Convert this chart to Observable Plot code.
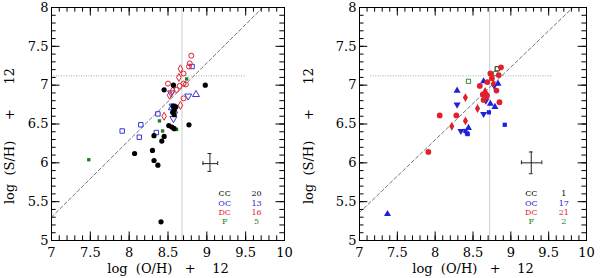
<!DOCTYPE html>
<html><head><meta charset="utf-8">
<script src="https://cdn.jsdelivr.net/npm/d3@7"></script>
<script src="https://cdn.jsdelivr.net/npm/@observablehq/plot@0.6"></script>
<style>
body{margin:0;background:#fff;}
#wrap{display:flex;width:600px;height:278px;overflow:hidden;}
</style></head><body><div id="wrap"></div>
<script>
// ---- axes / labels ----
const xTicks = [7, 7.5, 8, 8.5, 9, 9.5, 10];
const yTicks = [5, 5.5, 6, 6.5, 7, 7.5, 8];
const xLabel = "log\u00a0\u00a0(O/H)\u00a0\u00a0\u00a0+\u00a0\u00a0\u00a0\u00a012";
const yLabel = "log\u00a0\u00a0(S/H)\u00a0\u00a0\u00a0\u00a0\u00a0+\u00a0\u00a0\u00a0\u00a0\u00a0\u00a012";
const classes = ["CC", "OC", "DC", "F"];
const leftCounts = [20, 13, 16, 5];
const rightCounts = [1, 17, 21, 2];

// ---- left panel data [log(O/H)+12, log(S/H)+12] ----
const leftCC = [[8.45,6.94],[8.57,7.0],[8.98,7.0],[8.57,6.73],[8.60,6.72],[8.58,6.68],[8.58,6.62],[8.56,6.65],
  [8.51,6.48],[8.55,6.46],[8.58,6.44],[8.77,6.49],[8.32,6.35],[8.45,6.34],[8.42,6.28],[8.07,6.12],
  [8.30,6.16],[8.32,6.03],[8.37,5.97],[8.41,5.24]];
const leftOCsquare = [[7.91,6.41],[8.15,6.49],[8.13,6.33],[8.35,6.39],[8.37,6.63],[8.81,7.24]];
const leftOCdown = [[8.54,6.90],[8.76,6.86],[8.57,6.57],[8.56,6.73]];
const leftOCup = [[8.86,6.88],[8.58,6.67],[8.55,6.71]];
const leftDCcircle = [[8.80,7.38],[8.78,7.28],[8.77,7.24],[8.70,7.15],[8.50,7.02],[8.65,6.99],[8.70,7.02],
  [8.73,7.01],[8.61,6.94],[8.70,6.83]];
const leftDCdiamond = [[8.66,7.21],[8.64,7.10],[8.56,6.93],[8.52,6.87],[8.66,6.74],[8.45,6.60]];
const leftF = [[7.48,6.04],[8.74,7.08],[8.39,6.54],[8.43,6.41],[8.61,6.43]];

// ---- right panel data ----
const rightCC = [[8.82,7.21]];
const rightOCup = [[8.29,6.93],[8.64,7.05],[8.83,7.02],[8.73,6.76],[8.79,6.72],[8.44,6.45],[7.37,5.34]];
const rightOCdown = [[8.29,6.75],[8.78,6.99],[8.67,6.80],[8.64,6.63],[8.34,6.41]];
const rightOCsquare = [[8.71,6.65],[8.92,6.49],[8.40,6.41],[8.42,6.38],[8.43,6.37]];
const rightDCcircle = [[7.91,6.14],[8.06,6.61],[8.28,6.61],[8.59,6.99],[8.64,6.81],[8.63,6.88],[8.68,6.87],
  [8.69,7.04],[8.73,7.15],[8.75,7.09],[8.81,6.93],[8.84,7.13],[8.87,7.23],[8.85,6.78]];
const rightDCdiamond = [[8.22,6.47],[8.40,6.54],[8.40,6.84],[8.56,6.70],[8.69,6.86],[8.77,7.02],[8.66,6.92]];
const rightF = [[8.44,7.05],[8.80,7.15]];

// reference lines
const leftSolar = {o: 8.68, s: 7.12, s1: 7.0, s2: 9.49};
const rightSolar = {o: 8.72, s: 7.12, s1: 7.15, s2: 9.55};
const leftDiag = [[7, 5.30], [9.72, 8]];
const rightDiag = [[7, 5.36], [9.82, 8]];
const leftErr = {x: 9.04, y: 5.99, xlo: 8.95, xhi: 9.14, ylo: 5.89, yhi: 6.12};
const rightErr = {x: 9.27, y: 6.00, xlo: 9.14, xhi: 9.41, ylo: 5.86, yhi: 6.14};
const legendY = [5.60, 5.48, 5.36, 5.24];

const colors = {CC: "#000000", OC: "#2020dc", DC: "#e0202a", F: "#1e7e1e"};

const triangleDown = {
  draw(context, size) {
    const y = -Math.sqrt(size / (Math.sqrt(3) * 3));
    context.moveTo(0, -y * 2);
    context.lineTo(-Math.sqrt(3) * y, y);
    context.lineTo(Math.sqrt(3) * y, y);
    context.closePath();
  }
};

const minorX = d3.range(70, 101).map(d => d / 10);
const minorY = d3.range(50, 81).map(d => d / 10);

function pts(arr, o) {
  return Plot.dot(arr, {x: d => d[0], y: d => d[1], ...o});
}

function panel(cfg) {
  const ml = cfg.ml, mr = cfg.mr;
  const X = d => d[0], Y = d => d[1];
  return Plot.plot({
    width: 300, height: 278,
    marginLeft: ml, marginRight: mr, marginTop: 7, marginBottom: 38,
    x: {domain: [7, 10]},
    y: {domain: [5, 8]},
    color: {type: "identity"},
    style: {fontFamily: "DejaVu Serif", fontSize: "13px", color: "#000", background: "#fff", overflow: "visible"},
    marks: [
      Plot.ruleX([cfg.solar.o], {stroke: "#cfcfcf", strokeWidth: 1}),
      Plot.ruleY([cfg.solar.s], {x1: cfg.solar.s1, x2: cfg.solar.s2, stroke: "#a8a8a8", strokeDasharray: "1,1.5", strokeWidth: 1}),
      Plot.line(cfg.diag, {x: X, y: Y, stroke: "#666", strokeDasharray: "3.5,2.5", strokeWidth: 0.9}),
      // inward ticks
      Plot.ruleX(minorX, {x: d => d, y1: 5, y2: 5.06, stroke: "#000"}),
      Plot.ruleX(minorX, {x: d => d, y1: 8, y2: 7.94, stroke: "#000"}),
      Plot.ruleX(xTicks, {x: d => d, y1: 5, y2: 5.11, stroke: "#000"}),
      Plot.ruleX(xTicks, {x: d => d, y1: 8, y2: 7.89, stroke: "#000"}),
      Plot.ruleY(minorY, {y: d => d, x1: 7, x2: 7.06, stroke: "#000"}),
      Plot.ruleY(minorY, {y: d => d, x1: 10, x2: 9.94, stroke: "#000"}),
      Plot.ruleY(yTicks, {y: d => d, x1: 7, x2: 7.11, stroke: "#000"}),
      Plot.ruleY(yTicks, {y: d => d, x1: 10, x2: 9.89, stroke: "#000"}),
      Plot.frame({stroke: "#000", strokeWidth: 1}),
      Plot.axisX(xTicks, {tickSize: 0, tickPadding: 7, fontSize: 13, label: null, tickFormat: d => String(d)}),
      Plot.axisY(yTicks, {tickSize: 0, tickPadding: 3, fontSize: 13, label: null, tickFormat: d => String(d)}),
      Plot.text([xLabel], {frameAnchor: "bottom", dy: 32, fontSize: 13}),
      Plot.text([yLabel], {frameAnchor: "left", textAnchor: "middle", rotate: -90, dx: cfg.ylabDx, dy: 12, fontSize: 13}),
      ...cfg.points,
      // error cross
      Plot.ruleY([cfg.err], {y: d => d.y, x1: d => d.xlo, x2: d => d.xhi, stroke: "#222"}),
      Plot.ruleX([cfg.err], {x: d => d.x, y1: d => d.ylo, y2: d => d.yhi, stroke: "#222"}),
      Plot.ruleX([cfg.err], {x: d => d.xlo, y1: d => d.y - 0.025, y2: d => d.y + 0.025, stroke: "#222"}),
      Plot.ruleX([cfg.err], {x: d => d.xhi, y1: d => d.y - 0.025, y2: d => d.y + 0.025, stroke: "#222"}),
      Plot.ruleY([cfg.err], {y: d => d.ylo, x1: d => d.x - 0.025, x2: d => d.x + 0.025, stroke: "#222"}),
      Plot.ruleY([cfg.err], {y: d => d.yhi, x1: d => d.x - 0.025, x2: d => d.x + 0.025, stroke: "#222"}),
      // legend
      Plot.text(classes, {x: cfg.legX[0], y: (d, i) => legendY[i], text: d => d, fill: d => colors[d], fontSize: 8}),
      Plot.text(classes, {x: cfg.legX[1], y: (d, i) => legendY[i], text: (d, i) => String(cfg.counts[i]), fill: d => colors[d], fontSize: 8})
    ]
  });
}

const left = panel({
  ml: 51, mr: 16, ylabDx: -42, solar: leftSolar, diag: leftDiag, err: leftErr,
  legX: [9.23, 9.64], counts: leftCounts,
  points: [
    pts(leftF, {symbol: "square", r: 1.9, fill: colors.F}),
    pts(leftOCsquare, {symbol: "square", r: 2.5, stroke: colors.OC, fill: "none", strokeWidth: 0.9}),
    pts(leftOCdown, {symbol: triangleDown, r: 2.6, stroke: colors.OC, fill: "none", strokeWidth: 0.9}),
    pts(leftOCup, {symbol: "triangle", r: 2.6, stroke: colors.OC, fill: "none", strokeWidth: 0.9}),
    pts(leftDCcircle, {symbol: "circle", r: 2.5, stroke: colors.DC, fill: "none", strokeWidth: 1}),
    pts(leftDCdiamond, {symbol: "diamond", r: 2.4, stroke: colors.DC, fill: "none", strokeWidth: 1}),
    pts(leftCC, {symbol: "circle", r: 2.6, fill: colors.CC})
  ]
});

const right = panel({
  ml: 59, mr: 14, ylabDx: -51, solar: rightSolar, diag: rightDiag, err: rightErr,
  legX: [9.27, 9.70], counts: rightCounts,
  points: [
    pts(rightCC, {symbol: "square", r: 2.4, stroke: colors.CC, fill: "none", strokeWidth: 0.9}),
    pts(rightF, {symbol: "square", r: 2.4, stroke: colors.F, fill: "none", strokeWidth: 0.9}),
    pts(rightOCup, {symbol: "triangle", r: 2.6, fill: colors.OC}),
    pts(rightOCdown, {symbol: triangleDown, r: 2.6, fill: colors.OC}),
    pts(rightOCsquare, {symbol: "square", r: 2.4, fill: colors.OC}),
    pts(rightDCcircle, {symbol: "circle", r: 2.9, fill: colors.DC}),
    pts(rightDCdiamond, {symbol: "diamond", r: 2.7, fill: colors.DC})
  ]
});

document.getElementById("wrap").append(left, right);
</script>
</body></html>
